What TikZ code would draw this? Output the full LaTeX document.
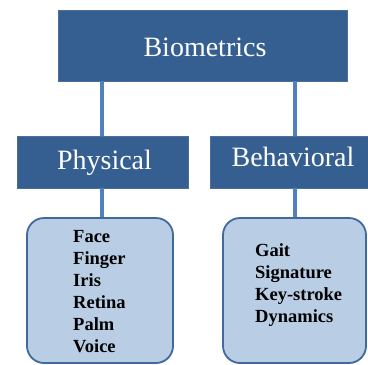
\documentclass[tikz,border=0pt]{standalone}
\usepackage{fontspec}
\setmainfont{LiberationSerif}[Extension=.ttf, UprightFont=*-Regular, BoldFont=*-Bold]
\begin{document}
\begin{tikzpicture}[x=1pt,y=-1pt,
  header/.style={fill=hdrblue, draw=hdrblue!90!white, line width=0.6pt, inner sep=0pt},
  listbox/.style={rounded corners=17pt, fill=listblue, draw=edgeblue, line width=1.8pt},
  link/.style={draw=linkblue, line width=3.5pt},
  headtext/.style={text=white, font=\fontsize{28}{30}\selectfont},
  listtext/.style={font=\bfseries\fontsize{18.5}{22}\selectfont, align=left, anchor=north west, inner sep=0pt}]
\definecolor{hdrblue}{HTML}{365F91}
\definecolor{linkblue}{HTML}{4F81BD}
\definecolor{listblue}{HTML}{B9CDE5}
\definecolor{edgeblue}{HTML}{41699C}
\useasboundingbox (0,0) rectangle (368,365);

% top level
\node[header, minimum width=289pt, minimum height=71pt] (bio) at (203,45.5) {};
\node[headtext] (biot) at (205,47) {Biometrics};

% second level
\node[header, minimum width=171pt, minimum height=52pt] (phy) at (102.5,162) {};
\node[header, minimum width=158pt, minimum height=52pt] (beh) at (289,162) {};
\node[headtext] (phyt) at (104.5,163) {Physical};
\node[headtext] (beht) at (293,157) {Behavioral};

% leaf boxes
\node[listbox, minimum width=146pt, minimum height=145pt] (phyl) at (100,290.5) {};
\node[listbox, minimum width=143pt, minimum height=145pt] (behl) at (294.5,290.5) {};

% connectors
\coordinate (c1) at (102,0);
\coordinate (c2) at (295,0);
\draw[link] (bio.south -| c1) -- (phy.north -| c1);
\draw[link] (bio.south -| c2) -- (beh.north -| c2);
\draw[link] (phy.south -| c1) -- (phyl.north -| c1);
\draw[link] (beh.south -| c2) -- (behl.north -| c2);

% list contents
\node[listtext] (phyitems) at (73,230) {Face\\Finger\\Iris\\Retina\\Palm\\Voice};
\node[listtext] (behitems) at (255,243) {Gait\\Signature\\Key-stroke\\Dynamics};
\end{tikzpicture}
\end{document}
